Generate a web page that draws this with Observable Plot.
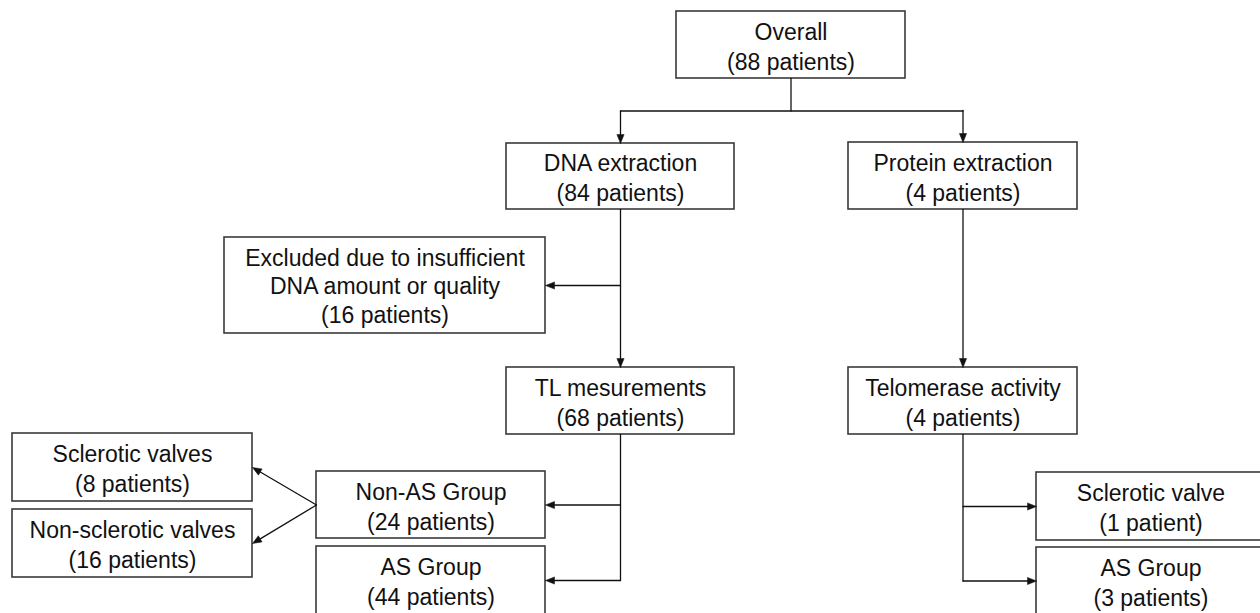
<!DOCTYPE html>
<html>
<head>
<meta charset="utf-8">
<script src="https://cdn.jsdelivr.net/npm/d3@7"></script>
<script src="https://cdn.jsdelivr.net/npm/@observablehq/plot@0.6"></script>
<style>
  html, body { margin: 0; padding: 0; background: #fff; overflow: hidden; }
  #chart svg { display: block; }
</style>
</head>
<body>
<div id="chart"></div>
<script>
// ---- data ----
const ids = ["overall", "dna", "protein", "excluded", "tl", "telomerase", "nonAS", "as", "scl", "nonScl", "sclR", "asR"];
const labels = [
  "Overall",
  "DNA extraction",
  "Protein extraction",
  "Excluded due to insufficient\nDNA amount or quality",
  "TL mesurements",
  "Telomerase activity",
  "Non-AS Group",
  "AS Group",
  "Sclerotic valves",
  "Non-sclerotic valves",
  "Sclerotic valve",
  "AS Group"
];
const patients = [88, 84, 4, 16, 68, 4, 24, 44, 8, 16, 1, 3];
// flow edges: [from, to, routing]
const edges = [
  ["overall", "dna", "bus"],
  ["overall", "protein", "bus"],
  ["dna", "tl", "down"],
  ["dna", "excluded", "sideLeft"],
  ["protein", "telomerase", "down"],
  ["tl", "nonAS", "sideLeft"],
  ["tl", "as", "sideLeft"],
  ["telomerase", "sclR", "sideRight"],
  ["telomerase", "asR", "sideRight"],
  ["nonAS", "scl", "fan"],
  ["nonAS", "nonScl", "fan"]
];

// ---- layout (box frames in chart units) ----
const layout = {
  overall:    {x1: 676, x2: 905, y1: 11,  y2: 78},
  dna:        {x1: 506, x2: 734, y1: 143, y2: 209},
  protein:    {x1: 848, x2: 1077, y1: 142, y2: 209},
  excluded:   {x1: 224, x2: 545, y1: 237, y2: 333},
  tl:         {x1: 506, x2: 734, y1: 367, y2: 434},
  telomerase: {x1: 848, x2: 1077, y1: 367, y2: 434},
  nonAS:      {x1: 316, x2: 545, y1: 471, y2: 538},
  as:         {x1: 316, x2: 545, y1: 546, y2: 614},
  scl:        {x1: 12,  x2: 252, y1: 433, y2: 501},
  nonScl:     {x1: 12,  x2: 252, y1: 509, y2: 577},
  sclR:       {x1: 1036, x2: 1265, y1: 472, y2: 540},
  asR:        {x1: 1036, x2: 1265, y1: 547, y2: 614}
};

const boxes = ids.map((id, i) => {
  const L = layout[id];
  return {id, label: labels[i], n: patients[i], ...L, cx: (L.x1 + L.x2) / 2, cy: (L.y1 + L.y2) / 2};
});
const box = Object.fromEntries(boxes.map(b => [b.id, b]));
const countText = n => `(${n} patient${n === 1 ? "" : "s"})`;

// ---- connectors derived from box geometry ----
const lines = [];   // {id, x, y}
const arrows = [];  // [[x0,y0],[x1,y1]] arrow ends at second point
let lid = 0;
function seg(pts) { const id = lid++; pts.forEach(([x, y]) => lines.push({id, x, y})); }

const trunkDone = new Set();
for (const [f, t, kind] of edges) {
  const a = box[f], b = box[t];
  if (kind === "bus") {
    const busY = (a.y2 + b.y1) / 2;
    if (!trunkDone.has(f)) {
      trunkDone.add(f);
      seg([[a.cx, a.y2], [a.cx, busY]]);
      const kids = edges.filter(e => e[0] === f && e[2] === "bus").map(e => box[e[1]].cx);
      seg([[d3.min(kids), busY], [d3.max(kids), busY]]);
    }
    arrows.push([[b.cx, busY], [b.cx, b.y1]]);
  } else if (kind === "down") {
    arrows.push([[a.cx, a.y2], [a.cx, b.y1]]);
  } else if (kind === "sideLeft" || kind === "sideRight") {
    const kids = edges.filter(e => e[0] === f && e[2] === kind).map(e => box[e[1]].cy);
    const downKids = edges.filter(e => e[0] === f && e[2] === "down");
    if (!trunkDone.has(f) && downKids.length === 0) {
      trunkDone.add(f);
      seg([[a.cx, a.y2], [a.cx, d3.max(kids)]]);
    }
    const ex = kind === "sideLeft" ? b.x2 : b.x1;
    arrows.push([[a.cx, b.cy], [ex, b.cy]]);
  } else if (kind === "fan") {
    arrows.push([[a.x1, a.cy], [b.x2, b.cy]]);
  }
}

const headLen = 9, headHalf = 3.6;
const heads = [];
arrows.forEach(([[x0, y0], [x1, y1]]) => {
  const dx = x1 - x0, dy = y1 - y0, len = Math.hypot(dx, dy);
  const ux = dx / len, uy = dy / len;
  const bx = x1 - ux * headLen, by = y1 - uy * headLen;
  seg([[x0, y0], [bx, by]]);
  const id = lid++;
  [[x1, y1], [bx - uy * headHalf, by + ux * headHalf], [bx + uy * headHalf, by - ux * headHalf], [x1, y1]]
    .forEach(([x, y]) => heads.push({id, x, y}));
});

const W = 1260, H = 613;
const chart = Plot.plot({
  width: W,
  height: H,
  margin: 0,
  x: {domain: [0, W], range: [0, W], axis: null},
  y: {domain: [0, H], range: [0, H], axis: null},
  style: {fontFamily: "'Liberation Sans', Arial, sans-serif", background: "#fff"},
  marks: [
    Plot.rect(boxes, {x1: "x1", x2: "x2", y1: "y1", y2: "y2", fill: "#fff", stroke: "#3a3a3a", strokeWidth: 1.6}),
    Plot.line(lines, {x: "x", y: "y", z: "id", stroke: "#111", strokeWidth: 1.3, curve: "linear"}),
    Plot.line(heads, {x: "x", y: "y", z: "id", fill: "#111", stroke: "#111", strokeWidth: 0.5}),
    Plot.text(boxes.filter(d => !d.label.includes("\n")), {
      x: "cx", y: "cy", text: d => d.label + "\n" + countText(d.n),
      fontSize: 23, lineHeight: 1.3, fill: "#111", textAnchor: "middle"
    }),
    Plot.text(boxes.filter(d => d.label.includes("\n")), {
      x: "cx", y: "cy", text: d => d.label + "\n" + countText(d.n),
      fontSize: 23, lineHeight: 1.22, fill: "#111", textAnchor: "middle"
    })
  ]
});
document.getElementById("chart").appendChild(chart);
</script>
</body>
</html>
